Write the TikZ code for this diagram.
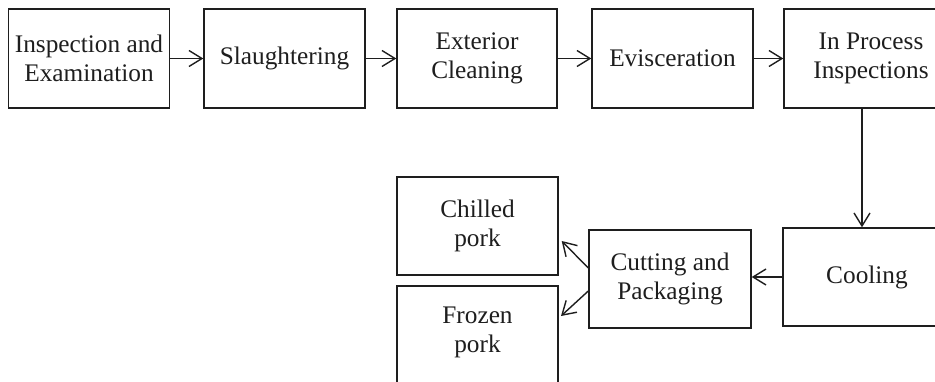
\documentclass[tikz,border=0pt]{standalone}
\usepackage{fontspec}
\setmainfont{Liberation Serif}
\usetikzlibrary{arrows.meta}
\definecolor{ink}{HTML}{1E1E1E}
\begin{document}
\begin{tikzpicture}[x=1pt,y=-1pt,
  box/.style={draw=ink, line width=1.4pt, minimum width=161pt, minimum height=99pt,
    inner sep=2pt, align=center, text=ink, font=\fontsize{25.3}{29}\selectfont},
  arr/.style={draw=ink, line width=1.4pt, -{Straight Barb[length=13pt,width=16pt]}}]
  \useasboundingbox (0,0) rectangle (935,382);
  \fill[white] (0,0) rectangle (935,382);

  % top row of process steps
  \node[box] (inspect) at (89,58.5) {Inspection and\\Examination};
  \node[box] (slaughter) at (284.5,58.5) {Slaughtering};
  \node[box, minimum width=160pt] (exterior) at (477,58.5) {Exterior\\Cleaning};
  \node[box] (evisc) at (672.5,58.5) {Evisceration};
  \node[box, minimum width=174pt] (inproc) at (871,58.5) {In Process\\Inspections};

  % lower row
  \node[box, minimum width=168pt, minimum height=98pt] (cooling) at (867,277) {Cooling};
  \node[box, minimum width=162pt, minimum height=98pt] (cutting) at (670,279) {Cutting and\\Packaging};
  \node[box, minimum height=98pt] (chilled) at (477.5,226) {Chilled\\pork};
  \node[box, draw=none, outer sep=0pt, minimum height=92pt] (frozen) at (477.5,332) {Frozen\\pork};
  \draw[ink, line width=1.4pt] ([yshift=-40pt]frozen.south west) -- (frozen.north west)
    -- (frozen.north east) -- ([yshift=-40pt]frozen.south east);

  % connectors
  \draw[arr] (inspect) -- (slaughter);
  \draw[arr] (slaughter) -- (exterior);
  \draw[arr] (exterior) -- (evisc);
  \draw[arr] (evisc) -- (inproc);
  \draw[arr] ([xshift=-9pt]inproc.south) -- ([xshift=-9pt]inproc.south |- cooling.north);
  \draw[arr] (cooling.west) -- (cooling.west -| cutting.east);
  \draw[arr] ([yshift=11pt]cutting.west) -- ([xshift=3pt,yshift=-15pt]chilled.east);
  \draw[arr] ([yshift=-12pt]cutting.west) -- ([xshift=3pt,yshift=16pt]frozen.east);
\end{tikzpicture}
\end{document}
